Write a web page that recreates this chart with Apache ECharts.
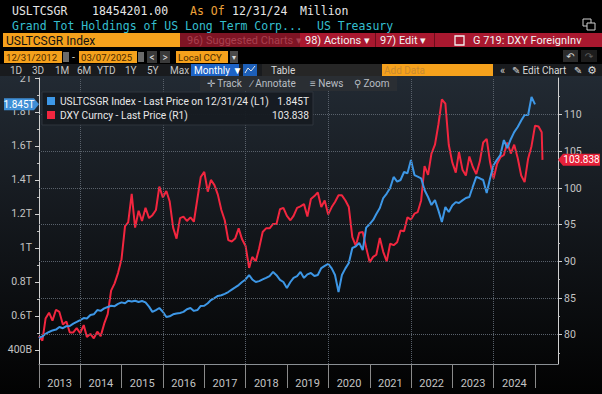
<!DOCTYPE html>
<html><head><meta charset="utf-8">
<script src="https://cdn.jsdelivr.net/npm/echarts@6/dist/echarts.min.js"></script>
<style>html,body{margin:0;padding:0;background:#000;}#c{width:602px;height:394px;}</style>
</head><body><div id="c"></div>
<script>
// ---------- DATA ----------
// USLTCSGR Index, month-end, Dec 2012 .. Dec 2024, in trillions USD
const corpHoldingsT = [
  0.471,0.48,0.495,0.506,0.515,0.52,0.535,0.528,0.54,0.541,0.555,0.565,0.576,
  0.588,0.585,0.606,0.61,0.635,0.63,0.645,0.653,0.66,0.658,0.671,0.68,
  0.675,0.69,0.685,0.69,0.682,0.688,0.68,0.655,0.624,0.635,0.647,0.625,
  0.594,0.598,0.61,0.615,0.618,0.624,0.64,0.647,0.63,0.635,0.659,0.66,
  0.675,0.694,0.705,0.718,0.722,0.73,0.741,0.755,0.768,0.782,0.8,0.815,
  0.841,0.815,0.8,0.805,0.815,0.824,0.835,0.859,0.84,0.812,0.8,0.765,
  0.8,0.824,0.835,0.859,0.824,0.845,0.853,0.835,0.841,0.882,0.895,0.906,
  0.88,0.841,0.741,0.841,0.88,0.912,1.0,1.01,1.03,0.988,1.12,1.14,
  1.165,1.2,1.235,1.294,1.32,1.353,1.418,1.39,1.4,1.447,1.44,1.518,
  1.429,1.42,1.41,1.341,1.3,1.253,1.282,1.22,1.153,1.241,1.212,1.25,
  1.27,1.265,1.28,1.294,1.3,1.36,1.418,1.41,1.4,1.324,1.41,1.488,
  1.52,1.547,1.635,1.588,1.64,1.682,1.712,1.75,1.782,1.782,1.888,1.845
];
const corpLastValueText = '1.845T';
// DXY Curncy, month-end, Dec 2012 .. Feb 2025
const dxyMonthly = [
  79.8,
  79.2,82.2,83.0,81.9,83.4,83.1,81.4,81.8,80.3,80.3,80.9,80.2,
  81.3,79.7,80.1,79.5,80.4,79.8,81.5,82.8,86.0,87.0,88.4,90.3,
  94.8,95.3,99.2,94.6,96.9,95.5,97.3,95.9,96.3,97.0,100.2,98.7,
  99.6,98.2,94.6,93.1,95.9,96.1,95.5,96.0,95.4,98.5,101.5,102.2,
  99.5,101.1,100.4,99.1,97.0,95.6,92.9,92.7,93.1,94.5,93.0,92.1,
  89.1,90.6,90.0,91.8,94.0,94.5,94.5,95.1,95.1,97.1,97.3,96.2,
  95.6,96.2,97.3,97.5,97.8,96.1,98.5,98.9,99.4,97.4,98.3,96.4,
  97.4,98.1,99.0,99.0,98.3,97.4,93.3,92.1,93.9,94.0,91.9,89.9,
  90.6,90.9,93.2,91.3,90.0,92.4,92.2,92.6,94.2,94.1,96.0,95.7,
  96.5,96.7,98.3,103.0,101.8,104.7,105.9,108.7,112.1,111.5,105.9,103.5,
  102.1,104.9,102.5,101.7,104.3,102.9,101.9,103.6,106.2,106.7,103.5,101.3,
  103.3,104.2,104.5,106.2,104.7,105.9,104.1,101.7,100.8,104.0,105.7,108.5,
  108.4,107.6
];
const dxyLastDate = [2025, 3, 7];
const dxyLastValue = 103.838;
const seriesStartMonth = [2012, 12];
const yearTickYears = [2013,2014,2015,2016,2017,2018,2019,2020,2021,2022,2023,2024,2025];
const yearLabelYears = [2013,2014,2015,2016,2017,2018,2019,2020,2021,2022,2023,2024];
const gridYears = [2014,2016,2018,2020,2022,2024];
const leftTicks = [0.4,0.6,0.8,1.0,1.2,1.4,1.6,1.8,2.0];
const leftMinorTicks = [0.5,0.7,0.9,1.1,1.3,1.5,1.7,1.9];
const rightTicks = [80,85,90,95,100,105,110];
const rightMinorTicks = [77.5,82.5,87.5,92.5,97.5,102.5,107.5,112.5];
const leftRange = [0.3176, 2.0];
const rightRange = [76, 115];
const xRange = [[2013,1,1], [2025,7,22]];
const seriesNames = ['USLTCSGR Index - Last Price on 12/31/24 (L1)', 'DXY Curncy - Last Price (R1)'];

// ---------- BUILD ----------
function monthEnd(i){ return Date.UTC(seriesStartMonth[0], seriesStartMonth[1] - 1 + i + 1, 0); }
function ymd(a){ return Date.UTC(a[0], a[1]-1, a[2]); }
const blueData = corpHoldingsT.map((v,i)=>[monthEnd(i), v]);
const redData = dxyMonthly.map((v,i)=>[monthEnd(i), v]);
redData.push([ymd(dxyLastDate), dxyLastValue]);

const BLUE = '#3d97e6', RED = '#f2263f';
const SANS = 'Roboto, "Liberation Sans", sans-serif';
const MONO = '"DejaVu Sans Mono", "Liberation Mono", monospace';

function T(text, x, y, fill, size, opts){
  opts = opts || {};
  return {type:'text', z: opts.z||100, silent:true, style:{text:text, x:x, y:y, fill:fill,
    font:(opts.weight||'normal') + ' ' + size + 'px ' + (opts.family||SANS),
    textAlign: opts.align||'left', textVerticalAlign:'middle'}};
}
function R(x,y,w,h,fill,opts){
  opts = opts||{};
  return {type:'rect', z: opts.z!==undefined?opts.z:90, silent:true, shape:{x:x,y:y,width:w,height:h}, style:{fill:fill, stroke: opts.stroke||null, lineWidth: opts.lw||0}};
}

const g = [];
g.push({type:'rect', z:-100, silent:true, shape:{x:0,y:76,width:602,height:318},
  style:{fill:new echarts.graphic.LinearGradient(0,0,0,1,[{offset:0,color:'#222a33'},{offset:0.45,color:'#14181d'},{offset:1,color:'#020202'}])}});
g.push(T('USLTCSGR', 12, 11, '#e6e6e6', 11.5, {family:MONO}));
g.push(T('18454201.00', 92, 11, '#e6e6e6', 11.5, {family:MONO}));
g.push(T('As Of', 190, 11, '#eda23a', 11.5, {family:MONO}));
g.push(T('12/31/24', 232, 11, '#e6e6e6', 11.5, {family:MONO}));
g.push(T('Million', 300, 11, '#e6e6e6', 11.5, {family:MONO}));
g.push(T('Grand Tot Holdings of US Long Term Corp...', 12, 25.5, '#35bfcf', 11.5, {family:MONO}));
g.push(T('US Treasury', 317, 25.5, '#35bfcf', 11.5, {family:MONO}));
g.push(R(583,19,8,7,'#000',{stroke:'#cfcfcf',lw:1,z:95}));
g.push(R(587,23,8,7,'#000',{stroke:'#cfcfcf',lw:1,z:96}));
g.push(R(3,33,177,14,'#f5a11c'));
g.push(T('USLTCSGR Index', 6, 40.5, '#111', 12));
g.push(R(180,33,120,14,'#7e1424'));
g.push(T('96) Suggested Charts \u25BE', 187, 40.5, '#a8404f', 11));
g.push(R(300,33,302,14,'#a9182f'));
g.push(R(375,33,1,14,'#6a0d1b',{z:91}));
g.push(R(434,33,1,14,'#6a0d1b',{z:91}));
g.push(T('98) Actions \u25BE', 305, 40.5, '#f2f2f2', 11));
g.push(T('97) Edit \u25BE', 380, 40.5, '#f2f2f2', 11));
g.push(R(455,36,9,9,'none',{stroke:'#f2f2f2',lw:1.3,z:95}));
g.push(T('G 719: DXY ForeignInv', 473, 40.5, '#f2f2f2', 11));
g.push(R(4,51,58,12,'#f5a11c'));
g.push(T('12/31/2012', 6, 57, '#4a2a00', 9.6));
g.push(R(63,52,6,10,'#6a6a6a'));
g.push(T('-', 72, 57, '#cfcfcf', 10.5));
g.push(R(79,51,58,12,'#f5a11c'));
g.push(T('03/07/2025', 81, 57, '#4a2a00', 9.6));
g.push(R(138,52,6,10,'#6a6a6a'));
g.push(R(147,51,10,12,'#3a3a3a'));
g.push(T('<', 152, 57, '#dcdcdc', 10, {align:'center'}));
g.push(R(160,51,10,12,'#3a3a3a'));
g.push(T('>', 165, 57, '#dcdcdc', 10, {align:'center'}));
g.push(R(176,51,52,12,'#f5a11c'));
g.push(T('Local CCY', 178, 57, '#4a2a00', 9.6));
g.push(R(230,51,8,12,'#4a4a4a'));
g.push(T('\u25BE', 234, 57, '#dcdcdc', 8, {align:'center'}));
g.push(R(563,50,15,12,'#2c2c2c'));
g.push(T('\u21B6', 570.5, 56, '#d8d8d8', 10, {align:'center', family:'"DejaVu Sans"'}));
g.push(R(581,50,16,12,'#1c1c1c'));
g.push(T('\u21B7', 589, 56, '#5e5e5e', 10, {align:'center', family:'"DejaVu Sans"'}));
g.push(R(0,64,602,12,'#191b1e',{z:80}));
const periods = [['1D',10],['3D',32],['1M',55],['6M',77],['YTD',97],['1Y',125],['5Y',147],['Max',170]];
periods.forEach(p=>g.push(T(p[0], p[1], 70, '#c6c6c6', 10)));
g.push(R(191,64,48,12,'#1d63c6'));
g.push(T('Monthly \u25BC', 194, 70, '#ffffff', 10));
g.push(R(243,64,14,12,'#1d5fb8'));
g.push({type:'polyline', z:101, silent:true, shape:{points:[[245,73],[248,68],[251,71],[255,66]]}, style:{stroke:'#e8e8e8', lineWidth:1, fill:null}});
g.push(R(262,64,120,12,'#262626'));
g.push(T('Table', 271, 70, '#d8d8d8', 10));
g.push(R(382,64,111,12,'#f5a11c'));
g.push(T('Add Data', 384, 70, '#c98a30', 10));
g.push(T('\u00AB', 500, 70, '#cfcfcf', 11));
g.push(T('\u270E Edit Chart', 512, 70, '#d8d8d8', 10));
g.push(T('\u270E', 574, 70, '#d8d8d8', 10, {family:'"DejaVu Sans"'}));
g.push(T('\u2699', 592, 70, '#d8d8d8', 11, {align:'center', family:'"DejaVu Sans"'}));
g.push(R(200,76,197,15,'#2a2e33'));
g.push(T('\u271B Track', 207, 83.5, '#b9bec4', 10));
g.push(T('\u2215 Annotate', 251, 83.5, '#b9bec4', 10));
g.push(T('\u2261 News', 310, 83.5, '#b9bec4', 10));
g.push(T('\u26B2 Zoom', 354, 83.5, '#b9bec4', 10));
g.push(R(42,92,271,33,'rgba(22,27,33,0.96)',{stroke:'#2e343c',lw:1,z:90}));
g.push(R(47,97,8,8,BLUE,{z:95}));
g.push(T(seriesNames[0], 60, 101.5, '#e8e8e8', 10.2));
g.push(T(corpLastValueText, 309, 101.5, '#e8e8e8', 10.2, {align:'right'}));
g.push(R(47,111,8,8,RED,{z:95}));
g.push(T(seriesNames[1], 60, 115.5, '#e8e8e8', 10.2));
g.push(T(dxyLastValue.toFixed(3), 309, 115.5, '#e8e8e8', 10.2, {align:'right'}));

const axisText = '#c4c4c4';
const option = {
  backgroundColor: '#000',
  animation: false,
  grid: {left:39, right:44, top:78, bottom:30, containLabel:false},
  xAxis: [{
    type:'value', min: ymd(xRange[0]), max: ymd(xRange[1]),
    axisLine:{show:true, lineStyle:{color:'#8a8f94', width:1}},
    axisTick:{show:true, length:24, lineStyle:{color:'#8a8a8a'}, customValues: yearTickYears.map(y=>Date.UTC(y,0,1))},
    axisLabel:{show:true, color:axisText, fontSize:11, fontFamily:SANS, margin:14,
      customValues: yearLabelYears.map(y=>Date.UTC(y,6,2)),
      formatter: function(v){ return String(new Date(v).getUTCFullYear()); }},
    splitLine:{show:false}
  }],
  yAxis: [
    {type:'value', position:'left', min:leftRange[0], max:leftRange[1],
      axisLine:{show:true, lineStyle:{color:'#d0d0d0', width:1}},
      axisTick:{show:true, length:4, lineStyle:{color:'#d0d0d0'}, customValues:leftTicks},
      axisLabel:{show:true, color:axisText, fontSize:10.5, fontFamily:SANS, margin:7, customValues:leftTicks,
        formatter:function(v){ if (Math.abs(v-0.4)<1e-6) return '400B'; return (Math.round(v*10)/10).toString() + 'T'; }},
      splitLine:{show:false}},
    {type:'value', position:'right', min:rightRange[0], max:rightRange[1],
      axisLine:{show:true, lineStyle:{color:'#d0d0d0', width:1}},
      axisTick:{show:true, length:4, lineStyle:{color:'#d0d0d0'}, customValues:rightTicks},
      axisLabel:{show:true, color:axisText, fontSize:10.5, fontFamily:SANS, margin:6, customValues:rightTicks},
      splitLine:{show:false}},
    {type:'value', position:'left', min:leftRange[0], max:leftRange[1],
      axisLine:{show:false}, axisLabel:{show:false}, splitLine:{show:false},
      axisTick:{show:true, length:2, lineStyle:{color:'#bdbdbd'}, customValues:leftMinorTicks}},
    {type:'value', position:'right', min:rightRange[0], max:rightRange[1],
      axisLine:{show:false}, axisLabel:{show:false}, splitLine:{show:false},
      axisTick:{show:true, length:2, lineStyle:{color:'#bdbdbd'}, customValues:rightMinorTicks}}
  ],
  series: [
    {type:'line', name:'grid', yAxisIndex:1, data:[], silent:true, z:1,
      markLine:{silent:true, symbol:['none','none'], label:{show:false},
        lineStyle:{color:'#59616b', type:'dotted', width:1},
        data: rightTicks.map(v=>({yAxis:v})).concat(gridYears.map(y=>({xAxis:Date.UTC(y,0,1)})))}},
    {type:'line', name:seriesNames[1], yAxisIndex:1, data:redData, showSymbol:false, z:3,
      lineStyle:{color:RED, width:2}, itemStyle:{color:RED}},
    {type:'line', name:seriesNames[0], yAxisIndex:0, data:blueData, showSymbol:false, z:4,
      lineStyle:{color:BLUE, width:2}, itemStyle:{color:BLUE}}
  ],
  graphic: {elements: g}
};
const chart = echarts.init(document.getElementById('c'), null, {renderer:'svg', width:602, height:394});
chart.setOption(option);

const yb = chart.convertToPixel({yAxisIndex:0}, corpHoldingsT[corpHoldingsT.length-1]);
const yr = chart.convertToPixel({yAxisIndex:1}, dxyLastValue);
const g2 = g.slice();
g2.push({type:'polygon', z:110, silent:true, shape:{points:[[4,yb-6],[34,yb-6],[39,yb],[34,yb+6],[4,yb+6]]}, style:{fill:'#3f8fd6'}});
g2.push(T(corpLastValueText, 19, yb, '#ffffff', 10, {align:'center', z:120}));
g2.push({type:'polygon', z:110, silent:true, shape:{points:[[558,yr],[563,yr-6],[600,yr-6],[600,yr+6],[563,yr+6]]}, style:{fill:'#e62139'}});
g2.push(T(dxyLastValue.toFixed(3), 581.5, yr, '#ffffff', 10, {align:'center', z:120}));
chart.setOption({graphic:{elements:g2}});
</script></body></html>
